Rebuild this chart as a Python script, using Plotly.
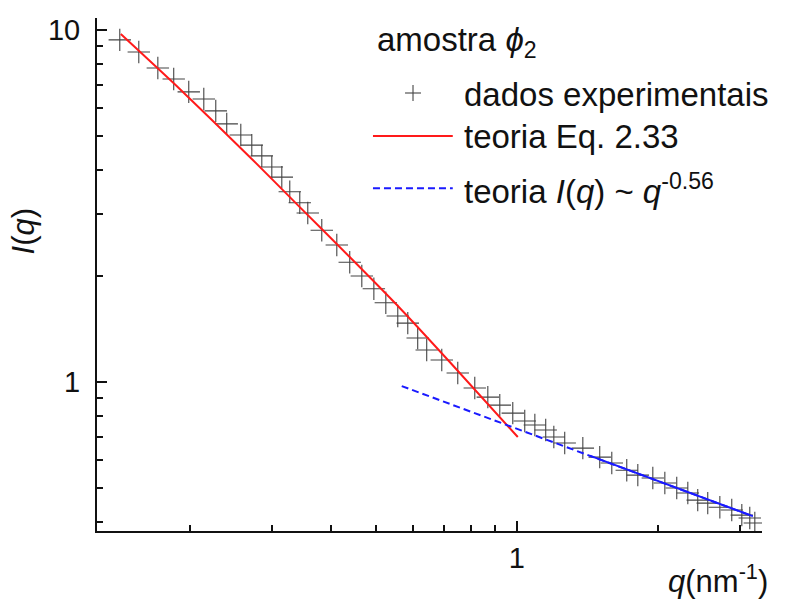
import plotly.graph_objects as go

# Experimental scattering intensity I(q), sample phi_2
q_exp = [0.1418, 0.1557, 0.1710, 0.1849, 0.1991, 0.2144, 0.2274, 0.2400, 0.2572, 0.2715,
         0.2852, 0.2996, 0.3147, 0.3273, 0.3438, 0.3576, 0.3831, 0.4125, 0.4396, 0.4665,
         0.4950, 0.5250, 0.5568, 0.5849, 0.6142, 0.6420, 0.6914, 0.7480, 0.8133, 0.8672,
         0.9198, 0.9805, 1.040, 1.093, 1.153, 1.200, 1.266, 1.384, 1.504, 1.596,
         1.718, 1.814, 1.953, 2.072, 2.197, 2.320, 2.436, 2.559, 2.716, 2.880,
         3.026, 3.147, 3.226]
I_exp = [9.37, 8.66, 7.80, 7.26, 6.67, 6.37, 5.89, 5.41, 5.03, 4.71,
         4.39, 4.08, 3.82, 3.47, 3.23, 3.02, 2.70, 2.45, 2.19, 2.00,
         1.84, 1.68, 1.54, 1.47, 1.334, 1.233, 1.155, 1.061, 0.962, 0.906,
         0.860, 0.816, 0.775, 0.755, 0.731, 0.698, 0.671, 0.649, 0.612, 0.589,
         0.562, 0.544, 0.534, 0.517, 0.500, 0.484, 0.462, 0.453, 0.441, 0.433,
         0.419, 0.411, 0.398]

# Theory curve (Eq. 2.33)
q_eq = [0.1425, 0.1905, 0.2688, 0.3438, 0.4396, 0.5623, 0.7191, 1.005]
I_eq = [9.74, 6.80, 4.36, 3.14, 2.265, 1.623, 1.140, 0.698]

# Power-law regime at large q (dashed extension plus solid fitted range)
q_pl = [0.5678, 3.194]
I_pl = [0.974, 0.416]
q_pl_fit = [1.432, 3.194]
I_pl_fit = [0.618, 0.416]

x_major = [1]
x_minor = [0.2, 0.3, 0.4, 0.5, 0.6, 0.7, 0.8, 0.9, 2, 3]
y_major = [1, 10]
y_minor = [0.4, 0.5, 0.6, 0.7, 0.8, 0.9, 2, 3, 4, 5, 6, 7, 8, 9]

FONT = "Liberation Sans, Arial, sans-serif"
INK = "#111111"
RED = "#ff1a1a"
BLUE = "#1a1aff"
MARK = "#444444"

fig = go.Figure()
fig.add_trace(go.Scatter(
    x=q_exp, y=I_exp, mode="markers", showlegend=False,
    marker=dict(symbol="cross-thin", size=16, color=MARK,
                line=dict(width=1.1, color=MARK)),
))
fig.add_trace(go.Scatter(
    x=q_eq, y=I_eq, mode="lines", showlegend=False,
    line=dict(color=RED, width=2, shape="spline", smoothing=0.6),
))
fig.add_trace(go.Scatter(
    x=q_pl, y=I_pl, mode="lines", showlegend=False,
    line=dict(color=BLUE, width=2, dash="7px,4px"),
))
fig.add_trace(go.Scatter(
    x=q_pl_fit, y=I_pl_fit, mode="lines", showlegend=False,
    line=dict(color=BLUE, width=2),
))

axis_common = dict(
    type="log", showgrid=False, zeroline=False,
    showline=True, linecolor=INK, linewidth=2,
    ticks="inside", ticklen=10, tickwidth=2, tickcolor=INK,
    tickfont=dict(family=FONT, size=29, color=INK),
)
fig.update_xaxes(
    **axis_common, range=[-0.897, 0.524],
    tickmode="array", tickvals=x_major, ticktext=["1"],
    minor=dict(tickmode="array", tickvals=x_minor, ticks="inside",
               ticklen=6, tickwidth=2, tickcolor=INK),
)
fig.update_yaxes(
    **axis_common, range=[-0.423, 1.034],
    tickmode="array", tickvals=y_major, ticktext=["1", "10"],
    ticklabelstandoff=9,
    minor=dict(tickmode="array", tickvals=y_minor, ticks="inside",
               ticklen=6, tickwidth=2, tickcolor=INK),
)

# Axis titles
fig.add_annotation(xref="paper", yref="paper", x=-0.1, y=0.585, xanchor="center",
                   yanchor="middle", xshift=-7,
                   text="<i>I</i>(<i>q</i>)", showarrow=False, textangle=-90,
                   font=dict(family=FONT, size=31, color=INK))
fig.add_annotation(xref="paper", yref="paper", x=1.0, y=-0.094, xanchor="right",
                   yanchor="middle", xshift=8,
                   text="<i>q</i>(nm<sup>-1</sup>)", showarrow=False,
                   font=dict(family=FONT, size=31, color=INK))

# Key
KEY_SIZE = 33
fig.add_annotation(xref="paper", yref="paper", x=0.418, y=0.953, xanchor="left",
                   yanchor="middle", text="amostra <i>\u03d5</i><sub>2</sub>",
                   showarrow=False, font=dict(family=FONT, size=KEY_SIZE, color=INK))
key_rows = [
    (0.851, "dados experimentais"),
    (0.769, "teoria Eq. 2.33"),
    (0.667, "teoria <i>I</i>(<i>q</i>) ~ <i>q</i><sup>-0.56</sup>"),
]
for yy, label in key_rows:
    fig.add_annotation(xref="paper", yref="paper", x=0.549, y=yy, xanchor="left",
                       yanchor="middle", text=label, showarrow=False,
                       font=dict(family=FONT, size=KEY_SIZE, color=INK))
# "+" sample for the experimental points
fig.add_shape(type="line", xref="paper", yref="paper", x0=0.4632, x1=0.4872,
              y0=0.8538, y1=0.8538, line=dict(color=MARK, width=1.1))
fig.add_shape(type="line", xref="paper", yref="paper", x0=0.4752, x1=0.4752,
              y0=0.8382, y1=0.8694, line=dict(color=MARK, width=1.1))
fig.add_shape(type="line", xref="paper", yref="paper", x0=0.415, x1=0.535,
              y0=0.77, y1=0.77, line=dict(color=RED, width=2))
fig.add_shape(type="line", xref="paper", yref="paper", x0=0.415, x1=0.535,
              y0=0.668, y1=0.668, line=dict(color=BLUE, width=2, dash="7px,4px"))

fig.update_layout(
    width=792, height=601, autosize=False,
    margin=dict(l=97, r=30, t=18, b=70),
    paper_bgcolor="white", plot_bgcolor="white",
    font=dict(family=FONT, color=INK),
)

fig.write_html("out.html")
